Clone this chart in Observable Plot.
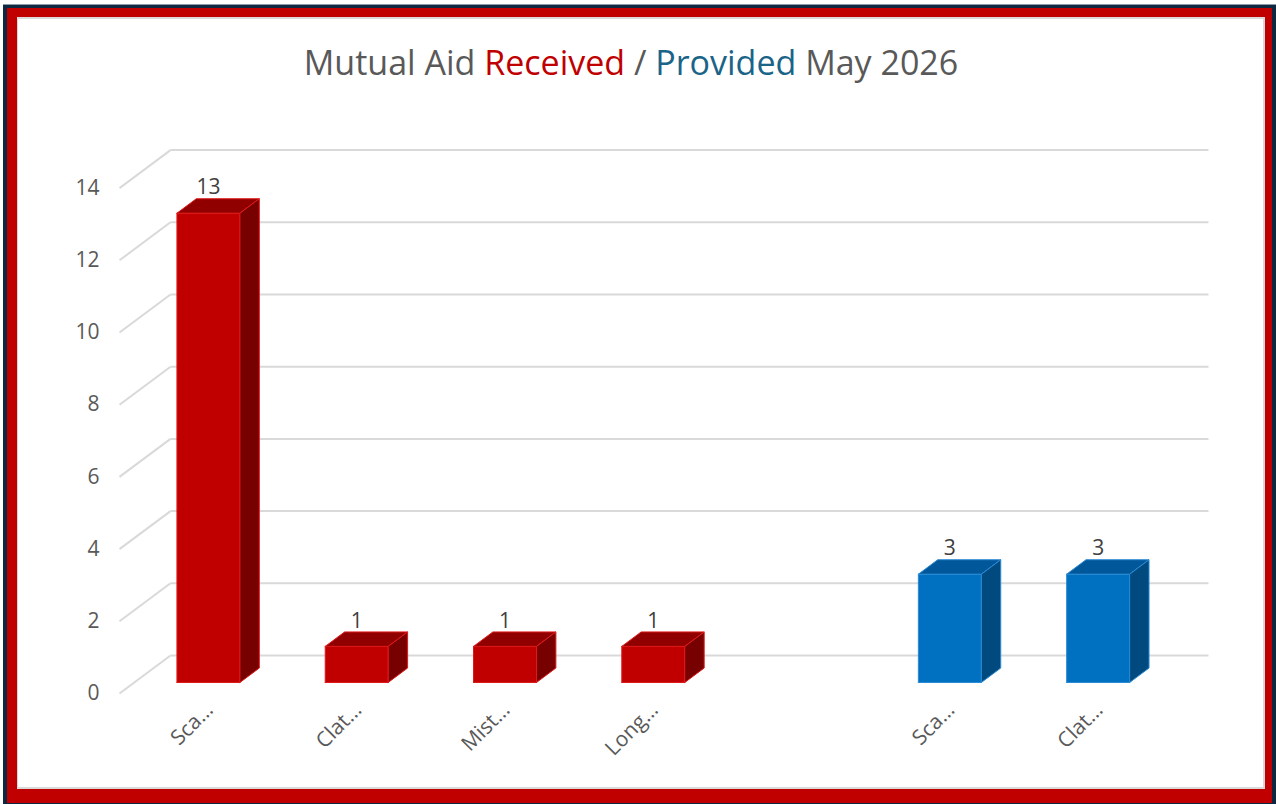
<!DOCTYPE html>
<html><head><meta charset="utf-8">
<script src="https://cdn.jsdelivr.net/npm/d3@7"></script>
<script src="https://cdn.jsdelivr.net/npm/@observablehq/plot@0.6"></script>
<style>
body{margin:0;width:1276px;height:804px;overflow:hidden;position:relative;background:#fff;font-family:"Open Sans",sans-serif}
.b{position:absolute}
#title{position:absolute;left:0;top:45px;width:1262px;text-align:center;font-size:34px;line-height:34px;color:#595959;white-space:nowrap}
#chart{position:absolute;left:0;top:0}
#chart svg{background:transparent}
</style></head><body>
<div class="b" style="left:3px;top:4px;width:1273px;height:1px;background:#8a9aa8"></div>
<div class="b" style="left:3px;top:5px;width:1273px;height:799px;background:#0E2841"></div>
<div class="b" style="left:7px;top:8px;width:1265px;height:795px;background:#C00000"></div>
<div class="b" style="left:17px;top:17px;width:1248px;height:772px;background:#D9D9D9"></div>
<div class="b" style="left:18px;top:19px;width:1245px;height:768px;background:#FFFFFF"></div>
<div id="title">Mutual Aid <span style="color:#C00000">Received</span> / <span style="color:#1A6488">Provided</span> May 2026</div>
<div id="chart"></div>
<script>
// ---- data ----
const receivedLabels = ["Sca…", "Clat…", "Mist…", "Long…"];
const receivedValues = [13, 1, 1, 1];
const providedLabels = ["Sca…", "Clat…"];
const providedValues = [3, 3];
const yTicks = [0, 2, 4, 6, 8, 10, 12, 14];

// ---- build rows (received slots, one empty slot, provided slots) ----
const rows = [];
receivedLabels.forEach((l, j) => rows.push({slot: j, label: l, value: receivedValues[j], group: "received"}));
providedLabels.forEach((l, j) => rows.push({slot: receivedLabels.length + 1 + j, label: l, value: providedValues[j], group: "provided"}));
const nSlots = receivedLabels.length + 1 + providedLabels.length;

const palette = {
  received: {front: "#C00000", top: "#900000", side: "#770000", edge: "#E01818"},
  provided: {front: "#0070C0", top: "#00589A", side: "#004A80", edge: "#2A8AD6"}
};

// 3D oblique projection in data units
const xRange = [119, 1157], yRange = [693, 693 - 14 * 36.1];
const pxPerX = (xRange[1] - xRange[0]) / nSlots;
const pxPerY = (yRange[0] - yRange[1]) / 14;
const DX = 51 / pxPerX, DY = 38 / pxPerY;    // depth offset of the back wall
const zf = 0.29, zb = 0.67, hw = 0.2124;     // bar depth range and half width
const P = (x, y, z) => ({px: x + z * DX, py: y + z * DY});

const faces = [];
rows.forEach((r, k) => {
  const c = palette[r.group];
  const x0 = r.slot - hw, x1 = r.slot + hw, v = r.value;
  const add = (name, pts) => {
    pts.push(pts[0]);
    pts.forEach(p => faces.push({...P(...p), face: k + name, fill: c[name], edge: c.edge}));
  };
  add("front", [[x0, 0, zf], [x1, 0, zf], [x1, v, zf], [x0, v, zf]]);
  add("top", [[x0, v, zf], [x1, v, zf], [x1, v, zb], [x0, v, zb]]);
  add("side", [[x1, 0, zf], [x1, 0, zb], [x1, v, zb], [x1, v, zf]]);
});

const grid = {stroke: "#D9D9D9", strokeWidth: 2};
const font = {fontFamily: "Open Sans"};
const chart = Plot.plot({
  width: 1276, height: 804,
  margin: 0,
  style: {background: "transparent", overflow: "visible"},
  x: {type: "linear", domain: [-0.5, nSlots - 0.5], range: xRange, axis: null},
  y: {type: "linear", domain: [0, 14], range: yRange, axis: null},
  color: {type: "identity"},
  marks: [
    Plot.link(yTicks, {x1: -0.5 + DX, x2: nSlots - 0.5 + DX, y1: d => d + DY, y2: d => d + DY, ...grid}),
    Plot.link(yTicks, {x1: -0.5, y1: d => d, x2: -0.5 + DX, y2: d => d + DY, ...grid}),
    Plot.text(yTicks, {x: -0.5, y: d => d, text: d => String(d), textAnchor: "end", dx: -20, fontSize: 21, fill: "#595959", ...font}),
    Plot.line(faces, {x: "px", y: "py", z: "face", fill: "fill", stroke: "edge", strokeWidth: 1, curve: "linear"}),
    Plot.text(rows, {x: d => d.slot + zf * DX, y: d => d.value + zb * DY, text: d => String(d.value), dy: -11, fontSize: 21, fill: "#404040", ...font}),
    Plot.text(rows, {x: "slot", y: 0, text: "label", rotate: -45, textAnchor: "end", dx: 16, dy: 13, fontSize: 21, fill: "#595959", ...font})
  ]
});
document.getElementById("chart").appendChild(chart);
</script>
</body></html>
